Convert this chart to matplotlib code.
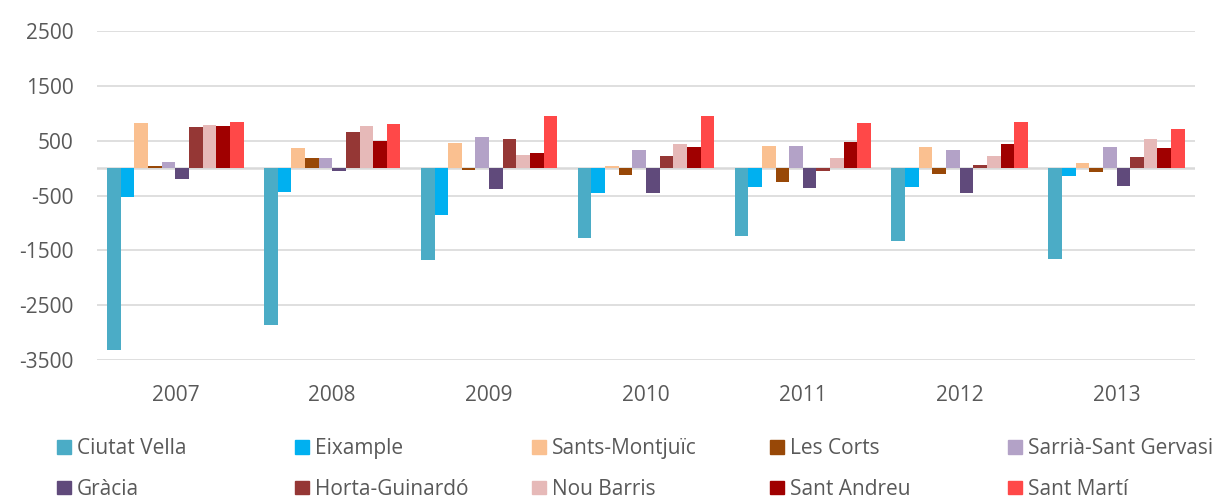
import numpy as np
import matplotlib.pyplot as plt
from matplotlib.patches import Patch

# %% Daten

years = ['2007', '2008', '2009', '2010', '2011', '2012', '2013']

ciutat_vella = [-3315, -2854, -1670, -1275, -1239, -1318, -1652]
eixample = [-523, -443, -850, -461, -340, -352, -140]
sants_montjuic = [825, 364, 449, 36, 406, 382, 91]
les_corts = [30, 176, -30, -122, -255, -115, -79]
sarria = [109, 182, 571, 322, 406, 334, 377]
gracia = [-195, -55, -377, -461, -364, -449, -328]
horta = [741, 662, 528, 224, -55, 61, 194]
nou_barris = [783, 759, 231, 443, 188, 212, 534]
sant_andreu = [759, 486, 273, 377, 474, 443, 364]
sant_marti = [832, 807, 947, 953, 820, 844, 705]

series = [
    ('Ciutat Vella', ciutat_vella, '#4BACC6'),
    ('Eixample', eixample, '#00B0F0'),
    ('Sants-Montjuïc', sants_montjuic, '#FAC090'),
    ('Les Corts', les_corts, '#984807'),
    ('Sarrià-Sant Gervasi', sarria, '#B3A2C7'),
    ('Gràcia', gracia, '#604A7B'),
    ('Horta-Guinardó', horta, '#953735'),
    ('Nou Barris', nou_barris, '#E6B9B8'),
    ('Sant Andreu', sant_andreu, '#A00000'),
    ('Sant Martí', sant_marti, '#FF4848'),
]

yticks = [-3500, -2500, -1500, -500, 500, 1500, 2500]

# %% Plot

plt.rcParams['font.family'] = ['Open Sans', 'DejaVu Sans']
plt.rcParams['font.size'] = 15
plt.rcParams['axes.unicode_minus'] = False
grau = '#595959'
gitter = '#D9D9D9'

fig = plt.figure(figsize=(12.15, 4.98), dpi=100)
ax = fig.add_axes([0.0798, 0.2765, 0.9037, 0.6615])

x = np.arange(len(years))
n = len(series)
breite = 1 / (n + 1.5)

for i, (name, werte, farbe) in enumerate(series):
    ax.bar(x + (i - (n - 1) / 2) * breite, werte, breite, color=farbe,
           label=name, zorder=3)

ax.set_xlim(-0.5, len(years) - 0.5)
ax.set_ylim(-3500, 2500)
ax.set_yticks(yticks)
ax.set_xticks(x)
ax.set_xticklabels(years)
ax.yaxis.grid(True, color=gitter, linewidth=1.2, zorder=0)
ax.axhline(0, color=gitter, linewidth=1.8, zorder=2)
ax.tick_params(length=0, colors=grau, labelsize=15)
ax.tick_params(axis='y', pad=17)
ax.tick_params(axis='x', pad=18)
for s in ax.spines.values():
    s.set_visible(False)

# Legende: 5 Spalten mit je 2 Eintraegen
spalten_x = [57, 295, 532, 770, 1008]
for k in range(5):
    h = [Patch(color=series[k][2]), Patch(color=series[k + 5][2])]
    l = [series[k][0], series[k + 5][0]]
    leg = fig.legend(h, l, loc='upper left',
                     bbox_to_anchor=(spalten_x[k] / 1215, 1 - 438 / 498),
                     frameon=False, borderpad=0, borderaxespad=0,
                     handlelength=0.65, handleheight=0.65,
                     handletextpad=0.3, labelspacing=0.95, fontsize=15)
    for t in leg.get_texts():
        t.set_color(grau)

fig.savefig('out.png', dpi=100)
